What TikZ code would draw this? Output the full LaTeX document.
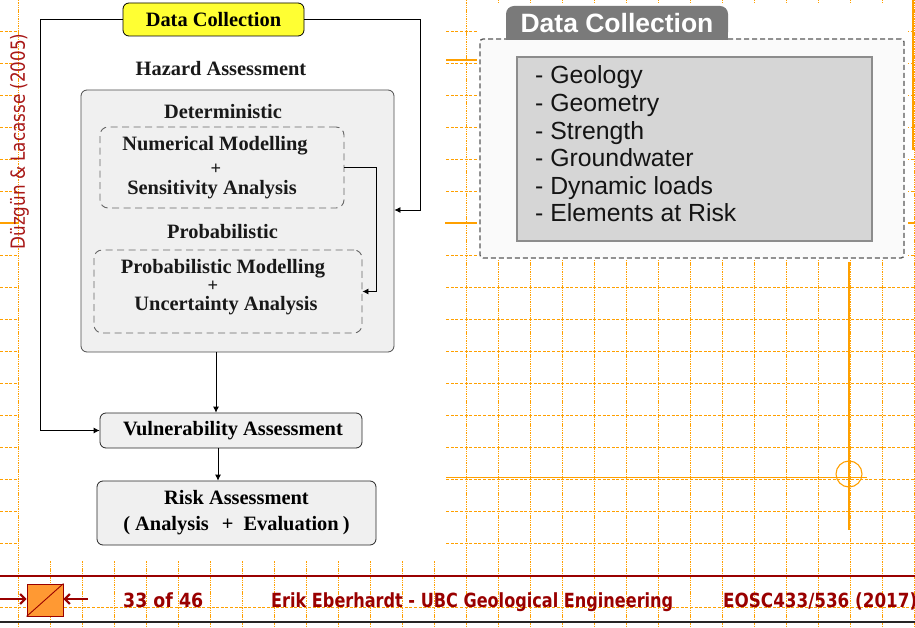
\documentclass[tikz,border=0pt]{standalone}
\usepackage{fontspec}
\usepackage{graphicx}
\setmainfont{Liberation Serif}
\newfontfamily\arialf{Liberation Sans}
\newfontfamily\footf{DejaVu Sans}
\usetikzlibrary{arrows.meta,calc}
\definecolor{gridor}{HTML}{FFA000}
\definecolor{dred}{HTML}{990000}
\definecolor{citered}{HTML}{A81818}
\definecolor{boxgray}{HTML}{F0F0F0}
\definecolor{dcyellow}{HTML}{FFFF33}
\definecolor{tabgray}{HTML}{7A7A7A}
\definecolor{innergray}{HTML}{D6D6D6}
\definecolor{panelfill}{HTML}{FAFAFA}
\definecolor{iconor}{HTML}{FF9933}
\tikzset{
  gridv/.style={draw=gridor, line width=1pt, dash pattern=on 1.4pt off 0.9pt},
  gridh/.style={draw=gridor, line width=0.85pt, dash pattern=on 3pt off 1.6pt},
  guide/.style={draw=gridor, line width=1.1pt},
  lbl/.style={font=\bfseries\fontsize{20.4}{26}\selectfont, inner sep=0pt, text=black!90},
  plusl/.style={font=\bfseries\fontsize{18.5}{20}\selectfont, inner sep=0pt, text=black!90},
  rbox/.style={draw=black!85, fill=boxgray, rounded corners=6pt, line width=0.8pt, inner sep=0pt},
  dbox/.style={draw=black!60, dash pattern=on 7pt off 4.5pt, rounded corners=8pt, line width=0.9pt, inner sep=0pt},
  arr/.style={draw=black, line width=0.8pt, -{Latex[length=6pt,width=6pt]}},
  item/.style={font=\arialf\fontsize{24.8}{28}\selectfont, inner sep=0pt, text=black!92, anchor=base west},
  foot/.style={font=\footf\bfseries\fontsize{19.5}{22}\selectfont, text=dred, inner sep=0pt, anchor=base west},
  farr/.style={draw=dred, line width=2pt, -{Straight Barb[length=5pt,width=10pt,line width=2pt]}}
}
\begin{document}
\begin{tikzpicture}[x=1pt,y=-1pt]
\useasboundingbox (0,0) rectangle (915,628);
\fill[white] (0,0) rectangle (915,628);
% background grid
\foreach \i in {0,...,28} \draw[gridv] (18+32*\i,0) -- (18+32*\i,628);
\foreach \j in {0,...,18} \draw[gridh] (0,31+32*\j) -- (915,31+32*\j);
% guides
\draw[guide] (0,223) -- (915,223);
\draw[guide] (446,60) -- (477,60);
\draw[guide] (913,0) -- (913,150);
\draw[guide] (849,262) -- (849,530);
\draw[guide] (446,477.5) -- (867,477.5);
\draw[guide] (849,474) circle[radius=13];
% image areas
\fill[white] (19,0) rectangle (445,561);
\fill[white] (477,3) rectangle (908,260);

% ---------- left diagram ----------
\node[rbox, draw=black, fill=dcyellow, minimum width=181pt, minimum height=33pt, font=\bfseries\fontsize{20.4}{24}\selectfont] (dc) at (213.5,19.5) {Data Collection};
\node[lbl, anchor=base] (hazlbl) at (221,76) {Hazard Assessment};
\node[rbox, draw=black!70, minimum width=313pt, minimum height=262pt] (hz) at (237.5,221) {};
\node[lbl, anchor=base] (detlbl) at (223,119) {Deterministic};
\node[dbox, minimum width=244pt, minimum height=81pt] (det) at (222,167.5) {};
\node[lbl, anchor=base] (num) at (215,151) {Numerical Modelling};
\node[plusl] (plus1) at (216,169.5) {+};
\node[lbl, anchor=base] (sens) at (212,195) {Sensitivity Analysis};
\node[lbl, anchor=base] (problbl) at (222.5,239) {Probabilistic};
\node[dbox, minimum width=268pt, minimum height=83pt] (prob) at (228,291.5) {};
\node[lbl, anchor=base] (pm) at (223,273) {Probabilistic Modelling};
\node[plusl] (plus2) at (213,286.5) {+};
\node[lbl, anchor=base] (unc) at (226,310) {Uncertainty Analysis};
\node[rbox, minimum width=262pt, minimum height=35pt, font=\bfseries\fontsize{20.4}{24}\selectfont] (va) at (231,430.5) {\hspace{4pt}Vulnerability Assessment};
\node[rbox, minimum width=279pt, minimum height=64pt, align=center, font=\bfseries\fontsize{20.4}{26}\selectfont] (ra) at (236.5,513) {Risk Assessment\\[0pt](\hspace{5pt}Analysis\hspace{13pt}+\hspace{10pt}Evaluation\hspace{4pt})};

\coordinate (lc) at (40,0);
\coordinate (rc) at (420,210);
\coordinate (c1) at (216,0);
\coordinate (c2) at (218,0);
\draw[arr] (dc.west) -| (lc |- va.west) -- (va.west);
\draw[arr] (dc.east) -| (rc) -- (rc -| hz.east);
\draw[arr] (det.east) -- ++(32,0) |- (prob.east);
\draw[arr] (hz.south -| c1) -- (va.north -| c1);
\draw[arr] (va.south -| c2) -- (ra.north -| c2);

% citation
\node[rotate=90, inner sep=0pt, text=citered, font=\footf\fontsize{19.5}{22}\selectfont] (cite) at (19.5,141.5) {\resizebox{216pt}{\height}{Düzgün \& Lacasse (2005)}};

% ---------- right panel ----------
\node[draw=black!65, fill=panelfill, dash pattern=on 5pt off 3pt, line width=1.3pt, rounded corners=3pt, minimum width=424pt, minimum height=219pt, inner sep=0pt] (panel) at (692,148.5) {};
\fill[tabgray] (506,23) rectangle (728,40);
\node[fill=tabgray, rounded corners=8pt, minimum width=222pt, minimum height=34pt, inner sep=0pt, text=white, font=\arialf\bfseries\fontsize{26.5}{30}\selectfont] (tab) at (617,23) {Data Collection};
\node[draw=black!45, fill=innergray, line width=1.2pt, minimum width=355pt, minimum height=184pt, inner sep=0pt] (inner) at (694.5,149) {};
\foreach \t [count=\k from 0] in {Geology,Geometry,Strength,Groundwater,Dynamic loads,Elements at Risk}
  \node[item] (item\k) at (535,84+27.6*\k) {- \t};

% ---------- footer ----------
\draw[dred, line width=2.5pt] (0,576) -- (915,576);
\draw[black!85, line width=2pt] (0,622) -- (915,622);
\node[draw=dred, fill=iconor, line width=0.9pt, minimum width=36pt, minimum height=32pt, inner sep=0pt] (icon) at (45,600) {};
\draw[dred, line width=0.9pt] (icon.south west) -- (icon.north east);
\coordinate (la) at (0,599);
\coordinate (rarr) at (88,599);
\draw[farr] (la) -- (icon.west |- la);
\draw[farr] (rarr) -- (icon.east |- rarr);
\node[foot] (pg) at (123,607) {\resizebox{80pt}{\height}{33 of 46}};
\node[foot] (auth) at (271,607) {\resizebox{402pt}{\height}{Erik Eberhardt - UBC Geological Engineering}};
\node[foot] (course) at (723,607) {\resizebox{194pt}{\height}{EOSC433/536 (2017)}};
\end{tikzpicture}
\end{document}
